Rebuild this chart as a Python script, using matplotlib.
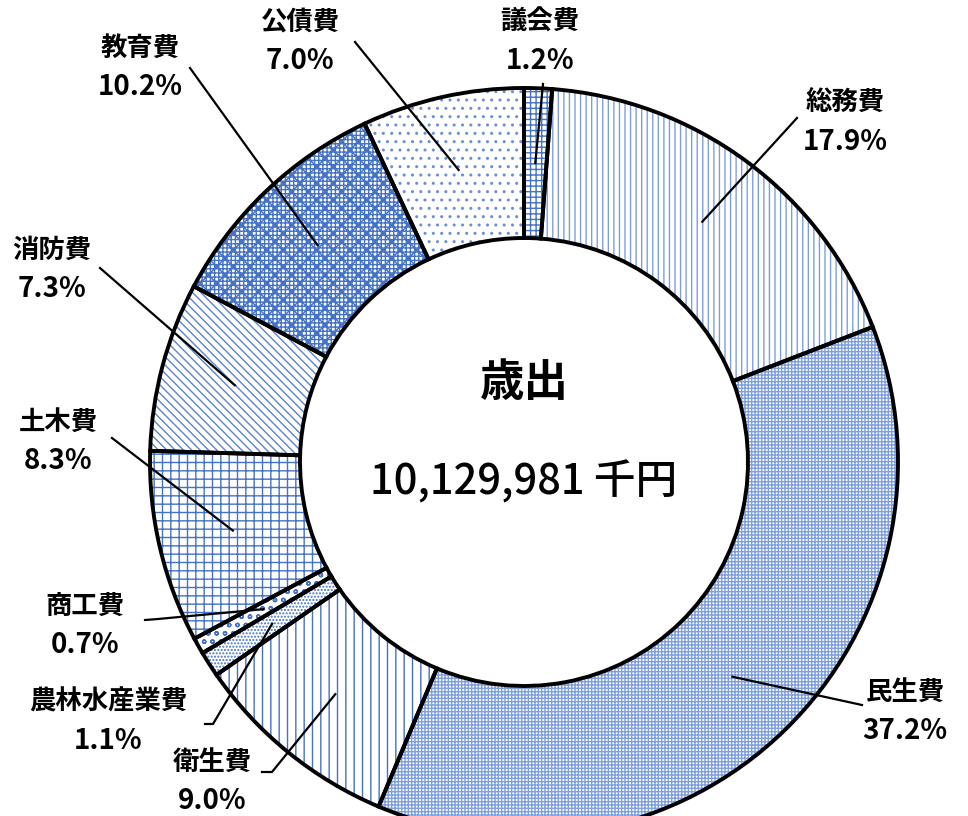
import matplotlib
matplotlib.use("Agg")
import matplotlib.pyplot as plt
import numpy as np

plt.rcParams['font.family'] = ['Noto Sans CJK JP', 'DejaVu Sans']
plt.rcParams['hatch.linewidth'] = 1.0

# ---- data ----
categories = ['議会費', '総務費', '民生費', '衛生費', '農林水産業費', '商工費',
              '土木費', '消防費', '教育費', '公債費']
shares = [1.2, 17.9, 37.2, 9.0, 1.1, 0.7, 8.3, 7.3, 10.2, 7.0]
center_title = '歳出'
center_total = '10,129,981 千円'

# ---- styles / layout ----
hatches = ['+++', '|||', '+++++', '||', '.....', 'oo', '++', '\\\\\\\\', '++++xx', '..']
hatch_colors = ['#4472c4', '#7f9fdc', '#7f9edc', '#4472c4', '#4472c4', '#4472c4',
                '#4472c4', '#5b82cc', '#4472c4', '#6a8fd4']
# label centre (pixel x, pixel y of first line) and leader start points (pixels)
label_pos = [(540, 22), (845, 103), (905, 692), (212, 762), (108, 702),
             (85, 606), (58, 422), (52, 250), (140, 48), (300, 22)]
leader_start = [[(543, 84)], [(797, 118)], [(862, 705)], [(262, 772), (272, 772)],
                [(205, 724), (213, 724)], [(145, 620), (158, 619)], [(112, 438)],
                [(100, 268)], [(190, 68)], [(355, 42)]]

W, H = 968, 816
fig = plt.figure(figsize=(W / 100, H / 100), dpi=100)
ax = fig.add_axes([0, 0, 1, 1])
cx, cy = 524, H - 462
R, width = 374, 150

wedges, _ = ax.pie(shares, startangle=90, counterclock=False, radius=R,
                   center=(cx, cy),
                   wedgeprops=dict(width=width, facecolor='white', linewidth=0))
for w, h, c in zip(wedges, hatches, hatch_colors):
    w.set_hatch(h)
    w.set_edgecolor(c)
    w.set_linewidth(0)

ax.pie(shares, startangle=90, counterclock=False, radius=R, center=(cx, cy),
       wedgeprops=dict(width=width, fill=False, edgecolor='black', linewidth=2.8))

ax.set_xlim(0, W)
ax.set_ylim(0, H)
ax.set_aspect('equal')
ax.axis('off')

for w, name, val, (lx, ly), starts in zip(wedges, categories, shares, label_pos, leader_start):
    ax.text(lx, H - ly, name, ha='center', va='center', fontsize=19, fontweight='bold')
    ax.text(lx, H - ly - 39, f'{val:.1f}%', ha='center', va='center', fontsize=20,
            fontweight='bold')
    mid = np.deg2rad((w.theta1 + w.theta2) / 2)
    ex, ey = cx + 0.8 * R * np.cos(mid), cy + 0.8 * R * np.sin(mid)
    xs = [p[0] for p in starts] + [ex]
    ys = [H - p[1] for p in starts] + [ey]
    ax.plot(xs, ys, color='black', lw=1.6, zorder=5)

ax.text(cx, H - 383, center_title, ha='center', va='center', fontsize=32, fontweight='bold')
ax.text(cx, H - 482, center_total, ha='center', va='center', fontsize=30, fontweight='medium')

fig.savefig('out.png', dpi=100)
